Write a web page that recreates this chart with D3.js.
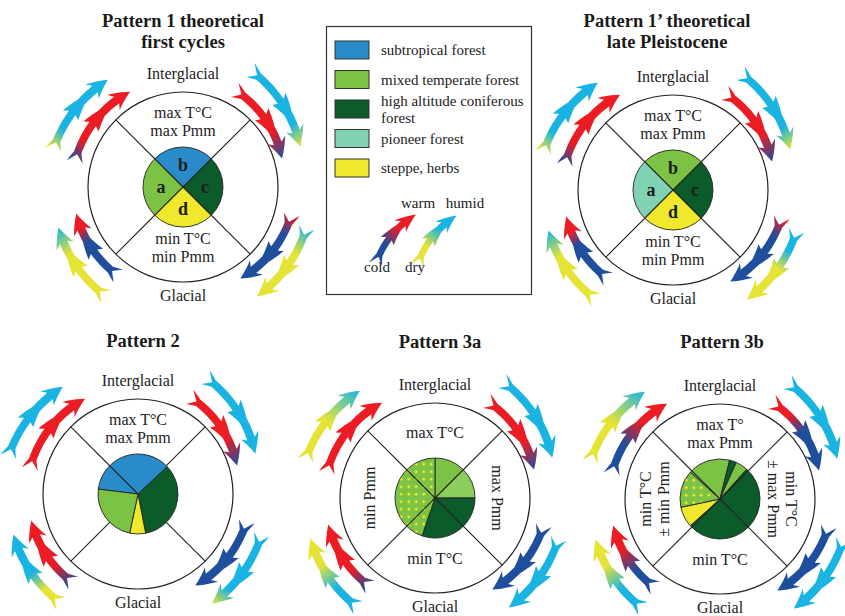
<!DOCTYPE html>
<html>
<head>
<meta charset="utf-8">
<script src="https://cdn.jsdelivr.net/npm/d3@7"></script>
<style>
  body { margin: 0; background: #fff; }
  svg { display: block; font-family: "Liberation Serif", "Times New Roman", serif; }
</style>
</head>
<body>
<div id="chart"></div>
<script>
// vegetation types (legend) and their colours
const vegKeys = ["sub", "mix", "con", "pio", "ste"];
const vegLabels = [["subtropical forest"], ["mixed temperate forest"], ["high altitude coniferous", "forest"], ["pioneer forest"], ["steppe, herbs"]];
const vegColors = ["#2a8bcb", "#7cc244", "#0b5b2b", "#80d2b3", "#f0e82c"];

// pie slices of each pattern, values are degrees of the cycle
const p1Keys = ["sub", "con", "ste", "mix"];
const p1Values = [90, 90, 90, 90];
const p1Letters = ["b", "c", "d", "a"];
const p1bKeys = ["mix", "con", "ste", "pio"];
const p1bValues = [90, 90, 90, 90];
const p2Keys = ["sub", "con", "ste", "mix"];
const p2Values = [130, 122, 23, 85];
const p3aKeys = ["mix", "mixPale", "con", "dots"];
const p3aValues = [45, 45, 109, 161];
const p3bKeys = ["mix", "con", "mix", "con", "ste", "dots"];
const p3bValues = [62, 10, 18, 186, 30, 54];

// climate arrows: colour runs tail -> tip
// order: upper-left inner/outer, upper-right inner/outer, lower-right inner/outer, lower-left inner/outer
const arrowKeys = ["R", "B", "C", "Y"];
const arrowColors = ["#ec1c24", "#1f4e9d", "#1ab4e2", "#e5e436"];
const p1Arrows = [["B","R","R","R","R"], ["Y","C","C","C","C"], ["R","R","R","B"], ["C","C","C","C","Y"],
                  ["R","B","B","B","B"], ["C","Y","Y","Y"], ["B","B","B","B","R","R"], ["Y","Y","Y","C"]];
const p1bArrows = [["B","R","R","R","R"], ["Y","C","C","C","C"], ["R","R","R","B"], ["C","C","C","C","Y"],
                   ["R","B","B","B","B"], ["C","C","Y","Y","Y"], ["B","B","B","B","R","R"], ["Y","Y","Y","C"]];
const p2Arrows = [["R","R"], ["C","C"], ["R","R","R","B"], ["C","C"],
                  ["B","B"], ["C","C","C","C","Y"], ["B","R","R","R"], ["Y","Y","C","C","C"]];
const p3aArrows = [["R","R"], ["Y","Y","C"], ["R","R","R","B"], ["C","C"],
                   ["B","B"], ["C","C"], ["B","R","R","R"], ["C","C","Y","Y"]];
const p3bArrows = [["B","B","R","R"], ["Y","Y","C"], ["R","R","B","B","B"], ["C","C"],
                   ["B","B"], ["C","C"], ["B","B","R","R"], ["C","C","Y","Y"]];

// quadrant texts [top, right, bottom, left]
const p1Quads = [["max T°C", "max Pmm"], [], ["min T°C", "min Pmm"], []];
const p2Quads = [["max T°C", "max Pmm"], [], [], []];
const p3aQuads = [["max T°C"], ["max Pmm"], ["min T°C"], ["min Pmm"]];
const p3bQuads = [["max T°", "max Pmm"], ["min T°C", "± max Pmm"], ["min T°C"], ["min T°C", "± min Pmm"]];

// ---- layout ----
const W = 845, H = 616;
const R = 95, pieR = 40;
const toRad = Math.PI / 180;

const panels = [
  { cx: 183, cy: 187, title: ["Pattern 1 theoretical", "first cycles"], tx: 183, ty: 27,
    keys: p1Keys, values: p1Values, letters: p1Letters, start: -45, arrows: p1Arrows, quads: p1Quads, through: [1,1,1,1] },
  { cx: 673, cy: 190, title: ["Pattern 1’ theoretical", "late Pleistocene"], tx: 667, ty: 27,
    keys: p1bKeys, values: p1bValues, letters: p1Letters, start: -45, arrows: p1bArrows, quads: p1Quads, through: [1,1,1,1] },
  { cx: 138, cy: 494, title: ["Pattern 2"], tx: 143, ty: 347,
    keys: p2Keys, values: p2Values, letters: null, start: -83, arrows: p2Arrows, quads: p2Quads, through: [1,0,0,0] },
  { cx: 435, cy: 498, title: ["Pattern 3a"], tx: 440, ty: 348,
    keys: p3aKeys, values: p3aValues, letters: null, start: 0, arrows: p3aArrows, quads: p3aQuads, through: [1,1,1,1] },
  { cx: 720, cy: 499, title: ["Pattern 3b"], tx: 722, ty: 348,
    keys: p3bKeys, values: p3bValues, letters: null, start: -48, arrows: p3bArrows, quads: p3bQuads, through: [1,1,1,1] }
];

// arrow placement around a panel: [tail angle, tip angle, tail radius, tip radius]
const arrowGeom = [
  [-77, -29, 111, 109], [-74, -35, 135, 131],
  [28, 74, 110, 103], [30, 71, 135, 124],
  [104, 148, 112, 108], [108, 146, 130, 132],
  [216, 256, 110, 110], [215, 252, 134, 131]
];

const fillOf = k => k === "dots" ? "url(#dots)" : k === "mixPale" ? "#8ccd5c" : vegColors[vegKeys.indexOf(k)];
const arrowColor = k => arrowColors[arrowKeys.indexOf(k)];

const svg = d3.select("#chart").append("svg")
  .attr("width", W).attr("height", H);
const defs = svg.append("defs");

const pat = defs.append("pattern").attr("id", "dots")
  .attr("patternUnits", "userSpaceOnUse").attr("width", 7.5).attr("height", 7.5);
pat.append("rect").attr("width", 7.5).attr("height", 7.5).attr("fill", vegColors[1]);
pat.append("circle").attr("cx", 3.75).attr("cy", 3.75).attr("r", 1.4).attr("fill", "#f2ee2c");

let gradId = 0;
const line = d3.line();

// curved "feathered" arrow along an arc: notched tail, a mid barb and a head
function drawArrow(g, cx, cy, a0, a1, r0, r1, colors, k) {
  const L = Math.abs(a1 - a0) * toRad * (r0 + r1) / 2;
  const dir = a1 > a0 ? 1 : -1;
  const sm = L * 0.5;
  const side = [[0, 6.2], [10, 3], [sm - 4, 3], [sm - 7, 7], [sm + 10, 3.2], [L - 16, 3.2], [L - 20, 7.5], [L, 0]]
    .map(d => [d[0], d[1] * k]);
  const pt = (s, n) => {
    const t = s / L;
    const a = (a0 + (a1 - a0) * t) * toRad;
    const r = r0 + (r1 - r0) * t + n * dir;
    return [cx + r * Math.sin(a), cy - r * Math.cos(a)];
  };
  const dense = [];
  side.forEach((d, i) => {
    if (i > 0) {
      const p = side[i - 1];
      const steps = Math.max(1, Math.ceil(Math.abs(d[0] - p[0]) / 4));
      for (let j = 1; j < steps; j++) dense.push([p[0] + (d[0] - p[0]) * j / steps, p[1] + (d[1] - p[1]) * j / steps]);
    }
    dense.push(d);
  });
  const pts = dense.map(d => pt(d[0], d[1]))
    .concat(dense.slice(0, -1).reverse().map(d => pt(d[0], -d[1])))
    .concat([pt(8, 0)]);
  const id = "ag" + (gradId++);
  const p0 = pt(0, 0), p1 = pt(L, 0);
  const grad = defs.append("linearGradient").attr("id", id).attr("gradientUnits", "userSpaceOnUse")
    .attr("x1", p0[0]).attr("y1", p0[1]).attr("x2", p1[0]).attr("y2", p1[1]);
  colors.forEach((c, i) => grad.append("stop")
    .attr("offset", i / (colors.length - 1)).attr("stop-color", arrowColor(c)));
  g.append("path").attr("d", line(pts) + "Z").attr("fill", `url(#${id})`);
}

const arc = d3.arc().innerRadius(0).outerRadius(pieR);
const labelArc = d3.arc().innerRadius(0).outerRadius(pieR * 1.1);

panels.forEach(p => {
  const g = svg.append("g");

  // title
  p.title.forEach((t, i) => g.append("text")
    .attr("x", p.tx).attr("y", p.ty + i * 21)
    .attr("text-anchor", "middle").attr("font-weight", "bold").attr("font-size", 18.5)
    .attr("fill", "#1a1a1a").text(t));

  g.append("text").attr("x", p.cx).attr("y", p.cy - 108)
    .attr("text-anchor", "middle").attr("font-size", 16).attr("fill", "#222").text("Interglacial");
  g.append("text").attr("x", p.cx).attr("y", p.cy + 114)
    .attr("text-anchor", "middle").attr("font-size", 16).attr("fill", "#222").text("Glacial");

  // outer circle
  g.append("circle").attr("cx", p.cx).attr("cy", p.cy).attr("r", R)
    .attr("fill", "none").attr("stroke", "#222").attr("stroke-width", 1.2);

  // pie
  const pie = d3.pie().sort(null).value(d => d)
    .startAngle(p.start * toRad).endAngle(p.start * toRad + 2 * Math.PI);
  const slices = pie(p.values);
  const pg = g.append("g").attr("transform", `translate(${p.cx},${p.cy})`);
  pg.selectAll("path").data(slices).join("path")
    .attr("d", arc)
    .attr("fill", (d, i) => fillOf(p.keys[i]))
    .attr("stroke", "#222").attr("stroke-width", 0.9);
  if (p.letters) {
    pg.selectAll("text.lt").data(slices).join("text")
      .attr("class", "lt")
      .attr("transform", d => `translate(${labelArc.centroid(d)})`)
      .attr("text-anchor", "middle").attr("dy", "0.35em")
      .attr("font-weight", "bold").attr("font-size", 18).attr("fill", "#1c1c1c")
      .text((d, i) => p.letters[i]);
  }

  // diagonals (upper-left, upper-right, lower-right, lower-left)
  [315, 45, 135, 225].forEach((a, i) => {
    const r0 = p.through[i] ? 0 : pieR;
    const s = Math.sin(a * toRad), c = -Math.cos(a * toRad);
    g.append("line")
      .attr("x1", p.cx + r0 * s).attr("y1", p.cy + r0 * c)
      .attr("x2", p.cx + R * s).attr("y2", p.cy + R * c)
      .attr("stroke", "#222").attr("stroke-width", 1.1);
  });

  // quadrant texts
  const lh = 18;
  const [top, right, bottom, left] = p.quads;
  top.forEach((t, i) => g.append("text").attr("x", p.cx)
    .attr("y", p.cy - 66 + (i - (top.length - 1) / 2) * lh).attr("dy", "0.35em")
    .attr("text-anchor", "middle").attr("font-size", 16).attr("fill", "#222").text(t));
  bottom.forEach((t, i) => g.append("text").attr("x", p.cx)
    .attr("y", p.cy + 60 + (i - (bottom.length - 1) / 2) * lh).attr("dy", "0.35em")
    .attr("text-anchor", "middle").attr("font-size", 16).attr("fill", "#222").text(t));
  left.forEach((t, i) => g.append("text")
    .attr("transform", `translate(${p.cx - 66},${p.cy}) rotate(-90)`)
    .attr("y", (i - (left.length - 1) / 2) * lh).attr("dy", "0.35em")
    .attr("text-anchor", "middle").attr("font-size", 16).attr("fill", "#222").text(t));
  right.forEach((t, i) => g.append("text")
    .attr("transform", `translate(${p.cx + 63},${p.cy}) rotate(90)`)
    .attr("y", (i - (right.length - 1) / 2) * lh).attr("dy", "0.35em")
    .attr("text-anchor", "middle").attr("font-size", 16).attr("fill", "#222").text(t));

  // arrows
  p.arrows.forEach((cols, i) => {
    const ag = arrowGeom[i];
    drawArrow(g, p.cx, p.cy, ag[0], ag[1], ag[2], ag[3], cols, 1.3);
  });
});

// ---- legend ----
const lg = svg.append("g");
lg.append("rect").attr("x", 326.5).attr("y", 26.5).attr("width", 205).attr("height", 268)
  .attr("fill", "#fff").attr("stroke", "#333").attr("stroke-width", 1.2);
const rowY = d3.scalePoint().domain(vegKeys).range([50, 168]);
vegKeys.forEach((k, i) => {
  const y = rowY(k);
  lg.append("rect").attr("x", 335).attr("y", y - 9).attr("width", 34).attr("height", 18)
    .attr("fill", vegColors[i]).attr("stroke", "#333").attr("stroke-width", 1);
  const ls = vegLabels[i];
  ls.forEach((t, j) => lg.append("text").attr("x", 381)
    .attr("y", y + 5 + (j - (ls.length - 1) / 2) * 17)
    .attr("font-size", 15).attr("fill", "#222").text(t));
});

drawArrow(lg, 465, 290, -74, -33, 93, 90, ["B", "B", "R", "R"], 1.1);
drawArrow(lg, 507, 290, -75, -34, 93, 90, ["Y", "Y", "C", "C"], 1.1);
[["warm", 418, 208], ["humid", 465, 208], ["cold", 377, 272], ["dry", 415, 272]].forEach(d =>
  lg.append("text").attr("x", d[1]).attr("y", d[2]).attr("text-anchor", "middle")
    .attr("font-size", 15).attr("fill", "#222").text(d[0]));
</script>
</body>
</html>
